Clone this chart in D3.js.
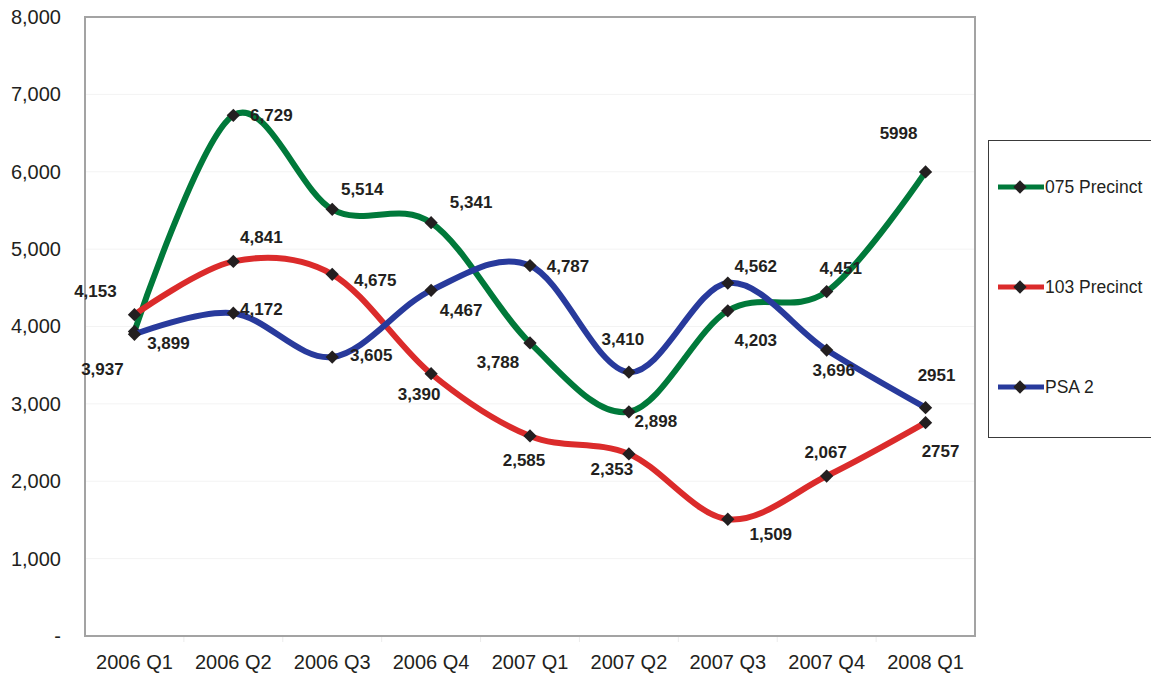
<!DOCTYPE html>
<html>
<head>
<meta charset="utf-8">
<script src="https://cdn.jsdelivr.net/npm/d3@7"></script>
<style>
  html, body { margin: 0; padding: 0; background: #fff; }
  svg { display: block; font-family: "Liberation Sans", Arial, sans-serif; }
</style>
</head>
<body>
<svg id="chart" width="1151" height="679"></svg>
<script>
// Quarterly figures by area
const quarters = ["2006 Q1", "2006 Q2", "2006 Q3", "2006 Q4", "2007 Q1", "2007 Q2", "2007 Q3", "2007 Q4", "2008 Q1"];
const precinct075 = [3937, 6729, 5514, 5341, 3788, 2898, 4203, 4451, 5998];
const precinct103 = [4153, 4841, 4675, 3390, 2585, 2353, 1509, 2067, 2757];
const psa2 = [3899, 4172, 3605, 4467, 4787, 3410, 4562, 3696, 2951];
const seriesNames = ["075 Precinct", "103 Precinct", "PSA 2"];
const yTicks = [0, 1000, 2000, 3000, 4000, 5000, 6000, 7000, 8000];

// How each value label is written (the last point of each series is unformatted)
const labelText = [
  ["3,937", "6,729", "5,514", "5,341", "3,788", "2,898", "4,203", "4,451", "5998"],
  ["4,153", "4,841", "4,675", "3,390", "2,585", "2,353", "1,509", "2,067", "2757"],
  ["3,899", "4,172", "3,605", "4,467", "4,787", "3,410", "4,562", "3,696", "2951"]
];

// Label placement relative to each marker [dx, dy]
const labelOffsets = [
  [[-32, 38], [38, 0], [30, -20], [40, -21], [-32, 19], [27, 9], [28, 29], [14, -24], [-27, -39]],
  [[-39, -24], [28, -25], [43, 6], [-12, 20], [-6, 24], [-17, 15], [43, 15], [-1, -24], [15, 28]],
  [[34, 9], [28, -4], [39, -2], [30, 20], [38, 0], [-6, -33], [28, -17], [7, 20], [11, -33]]
];

const colors = ["#00793a", "#db2b2b", "#283a9c"];
const series = [precinct075, precinct103, psa2];

const svg = d3.select("#chart");
const plot = { left: 85, right: 975, top: 17, bottom: 636 };

const x = d3.scaleBand().domain(quarters).range([plot.left, plot.right]);
const xc = q => x(q) + x.bandwidth() / 2;
const y = d3.scaleLinear().domain([0, 8000]).range([plot.bottom, plot.top]);

// faint horizontal gridlines
svg.append("g")
  .selectAll("line")
  .data(yTicks.slice(1, -1))
  .join("line")
  .attr("x1", plot.left).attr("x2", plot.right)
  .attr("y1", d => y(d)).attr("y2", d => y(d))
  .attr("stroke", "#f3f3f3").attr("stroke-width", 1);

// y axis labels
const yAxis = d3.axisLeft(y)
  .tickValues(yTicks)
  .tickSize(0)
  .tickPadding(24)
  .tickFormat(d => d === 0 ? "-" : d3.format(",")(d));
svg.append("g")
  .attr("transform", `translate(${plot.left},0)`)
  .call(yAxis)
  .call(g => g.select(".domain").remove())
  .call(g => g.selectAll("text")
    .attr("font-size", 20)
    .attr("font-family", "Liberation Sans, Arial, sans-serif")
    .attr("fill", "#231f20"));

// x axis labels with faint boundary ticks
const xAxis = d3.axisBottom(x).tickSize(0).tickPadding(19);
svg.append("g")
  .attr("transform", `translate(0,${plot.bottom})`)
  .call(xAxis)
  .call(g => g.select(".domain").remove())
  .call(g => g.selectAll("text")
    .attr("font-size", 20)
    .attr("font-family", "Liberation Sans, Arial, sans-serif")
    .attr("fill", "#231f20"));

svg.append("g")
  .selectAll("line")
  .data(quarters.slice(1))
  .join("line")
  .attr("x1", d => x(d)).attr("x2", d => x(d))
  .attr("y1", plot.bottom).attr("y2", plot.bottom + 6)
  .attr("stroke", "#ececec").attr("stroke-width", 1);

// plot frame
svg.append("rect")
  .attr("x", plot.left).attr("y", plot.top)
  .attr("width", plot.right - plot.left).attr("height", plot.bottom - plot.top)
  .attr("fill", "none").attr("stroke", "#a3a3a3").attr("stroke-width", 2);

const line = d3.line()
  .x((d, i) => xc(quarters[i]))
  .y(d => y(d))
  .curve(d3.curveCardinal.tension(0));

const diamond = d3.symbol().type(d3.symbolSquare).size(88);

series.forEach((vals, s) => {
  const g = svg.append("g");
  g.append("path")
    .datum(vals)
    .attr("d", line)
    .attr("fill", "none")
    .attr("stroke", colors[s])
    .attr("stroke-width", 6)
    .attr("stroke-linejoin", "round")
    .attr("stroke-linecap", "round");
  g.selectAll("path.marker")
    .data(vals)
    .join("path")
    .attr("class", "marker")
    .attr("d", diamond)
    .attr("fill", "#231f20")
    .attr("transform", (d, i) => `translate(${xc(quarters[i])},${y(d)}) rotate(45)`);
});

// value labels
series.forEach((vals, s) => {
  svg.append("g")
    .selectAll("text")
    .data(vals)
    .join("text")
    .attr("x", (d, i) => xc(quarters[i]) + labelOffsets[s][i][0])
    .attr("y", (d, i) => y(d) + labelOffsets[s][i][1])
    .attr("dy", "0.36em")
    .attr("text-anchor", "middle")
    .attr("font-size", 17)
    .attr("font-weight", "bold")
    .attr("fill", "#231f20")
    .text((d, i) => labelText[s][i]);
});

// legend
const legend = svg.append("g");
legend.append("rect")
  .attr("x", 988.5).attr("y", 140.5)
  .attr("width", 170).attr("height", 297)
  .attr("fill", "#fff").attr("stroke", "#3a3a3a").attr("stroke-width", 1);

const legendY = d3.scalePoint().domain(seriesNames).range([187, 387]);
seriesNames.forEach((name, s) => {
  const ly = legendY(name);
  legend.append("line")
    .attr("x1", 998).attr("x2", 1044)
    .attr("y1", ly).attr("y2", ly)
    .attr("stroke", colors[s]).attr("stroke-width", 5);
  legend.append("path")
    .attr("d", diamond)
    .attr("fill", "#231f20")
    .attr("transform", `translate(1020,${ly}) rotate(45)`);
  legend.append("text")
    .attr("x", 1045).attr("y", ly)
    .attr("dy", "0.36em")
    .attr("font-size", 17.5)
    .attr("fill", "#231f20")
    .text(name);
});
</script>
</body>
</html>
